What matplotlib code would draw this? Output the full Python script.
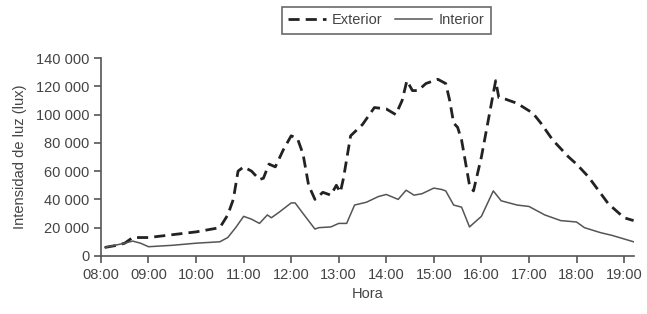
import matplotlib.pyplot as plt
from matplotlib.ticker import FuncFormatter

# Exterior (dashed) -- hora, lux
ext_hora = ["08:05", "08:20", "08:30", "08:40", "09:00", "09:30", "10:00", "10:20", "10:30",
            "10:40", "10:47", "10:53", "11:00", "11:10", "11:20", "11:25", "11:32", "11:40",
            "11:50", "12:00", "12:08", "12:15", "12:22", "12:30", "12:40", "12:50", "12:57",
            "13:02", "13:06", "13:15", "13:30", "13:45", "14:00", "14:12", "14:20", "14:26",
            "14:33", "14:40", "14:50", "15:05", "15:15", "15:20", "15:25", "15:30", "15:35",
            "15:45", "15:50", "16:00", "16:10", "16:18", "16:22", "16:30", "16:45", "17:05",
            "17:15", "17:30", "17:50", "18:00", "18:15", "18:40", "19:00", "19:12"]
ext_lux = [6000, 7500, 9000, 13000, 13000, 15000, 17000, 19000, 20000,
           29000, 40000, 60000, 63000, 60000, 54000, 55000, 65000, 63000,
           75000, 85000, 83000, 72000, 50000, 40000, 45000, 43000, 50000,
           45000, 55000, 85000, 93000, 105000, 104000, 100000, 110000, 124000,
           117000, 117000, 122000, 125000, 122000, 110000, 94000, 91000, 82000,
           50000, 46000, 70000, 100000, 124000, 112000, 111000, 108000, 101000,
           94000, 82000, 70000, 65000, 56000, 37000, 27000, 25000]

# Interior (solid)
int_hora = ["08:05", "08:30", "08:40", "08:50", "09:00", "09:30", "10:00", "10:30", "10:40",
            "10:50", "11:00", "11:10", "11:20", "11:30", "11:35", "11:45", "12:00", "12:05",
            "12:15", "12:30", "12:35", "12:50", "13:00", "13:10", "13:20", "13:35", "13:50",
            "14:00", "14:15", "14:25", "14:35", "14:45", "15:00", "15:10", "15:15", "15:25",
            "15:35", "15:45", "16:00", "16:10", "16:15", "16:25", "16:45", "17:00", "17:20",
            "17:40", "18:00", "18:10", "18:30", "18:45", "19:00", "19:12"]
int_lux = [6000, 9000, 10500, 9000, 6500, 7500, 9000, 10000, 13000,
           20000, 28000, 26000, 23000, 29000, 27000, 31000, 37500, 37500,
           30000, 19000, 20000, 20500, 23000, 23000, 36000, 38000, 42000,
           43500, 40000, 46500, 43000, 44000, 48000, 47000, 46000, 36000,
           34500, 20500, 28000, 40000, 46000, 39000, 36000, 35000, 29000,
           25000, 24000, 20000, 16500, 14500, 12000, 10000]

tick_horas = ["08:00", "09:00", "10:00", "11:00", "12:00", "13:00",
              "14:00", "15:00", "16:00", "17:00", "18:00", "19:00"]


def to_h(s):
    h, m = s.split(":")
    return int(h) + int(m) / 60.0


plt.rcParams["font.family"] = ["Liberation Sans", "DejaVu Sans"]

fig = plt.figure(figsize=(6.47, 3.14), dpi=100)
ax = fig.add_axes([0.156, 0.185, 0.824, 0.63])

ax.plot([to_h(t) for t in ext_hora], ext_lux, color="#222222", lw=2.0,
        linestyle=(0, (4, 2.2)), label="Exterior")
ax.plot([to_h(t) for t in int_hora], int_lux, color="#555555", lw=1.1,
        label="Interior")

ax.set_xlim(8.0, 19.21)
ax.set_ylim(0, 140000)
ax.set_xticks([to_h(t) for t in tick_horas])
ax.set_xticklabels(tick_horas)
ax.set_yticks(range(0, 140001, 20000))
ax.yaxis.set_major_formatter(FuncFormatter(lambda v, p: f"{int(v):,}".replace(",", " ")))

for s in ["top", "right"]:
    ax.spines[s].set_visible(False)
for s in ["left", "bottom"]:
    ax.spines[s].set_color("#555555")
    ax.spines[s].set_linewidth(1.2)
ax.tick_params(colors="#555555", labelcolor="#444444", labelsize=10.5, length=5, width=1.2)

ax.set_xlabel("Hora", fontsize=10.5, color="#444444", labelpad=4)
ax.set_ylabel("Intensidad de luz (lux)", fontsize=10.5, color="#444444", labelpad=6)

leg = fig.legend(loc="center", bbox_to_anchor=(0.597, 0.935), ncol=2,
                 fontsize=10.5, frameon=True, fancybox=False, handlelength=2.6,
                 columnspacing=0.8, handletextpad=0.4, borderpad=0.45)
leg.get_frame().set_edgecolor("#444444")
leg.get_frame().set_linewidth(1.2)
for t in leg.get_texts():
    t.set_color("#444444")

fig.savefig("out.png", dpi=100)
